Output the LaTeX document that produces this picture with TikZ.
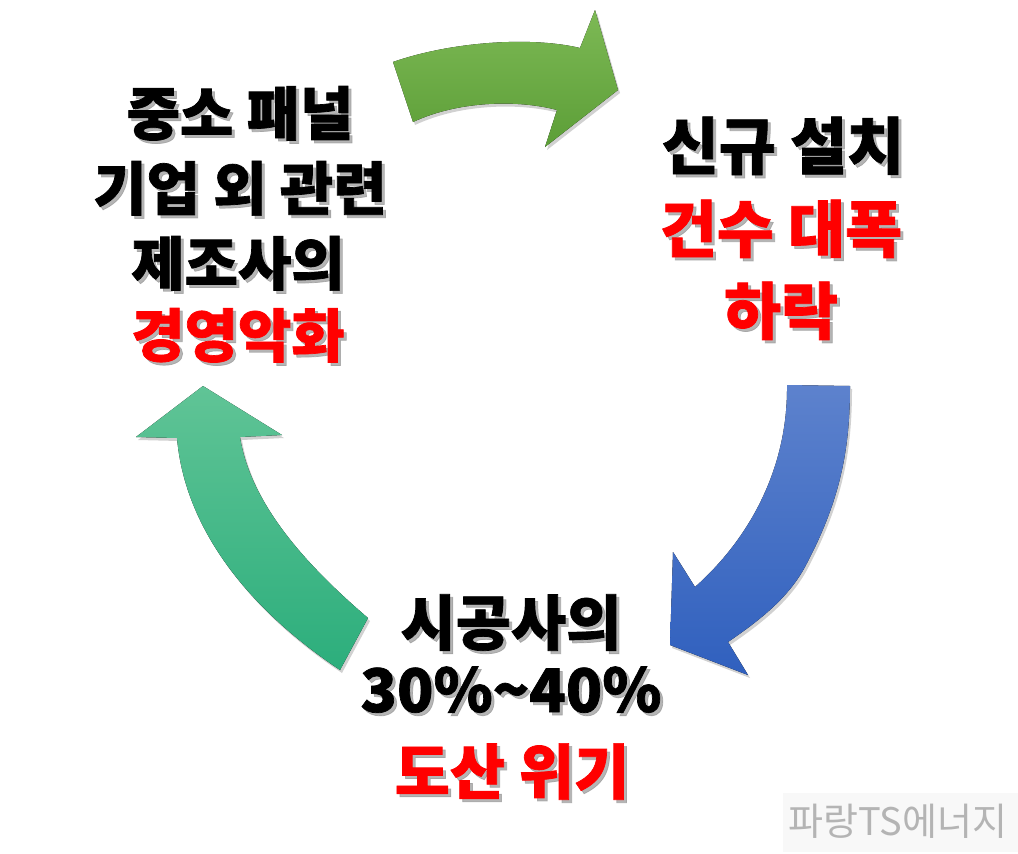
\documentclass[tikz,border=0pt]{standalone}
\usepackage{fontspec}
\newfontfamily\kr{Noto Sans CJK KR}[BoldFeatures={FakeBold=1.2}]
\definecolor{hlred}{RGB}{255,0,0}
\definecolor{shadowgray}{RGB}{150,150,150}
\definecolor{gtop}{RGB}{125,185,85}
\definecolor{gbot}{RGB}{92,158,55}
\definecolor{btop}{RGB}{93,130,205}
\definecolor{bbot}{RGB}{48,96,190}
\definecolor{ttop}{RGB}{96,196,150}
\definecolor{tbot}{RGB}{44,174,124}
\definecolor{wmgray}{RGB}{180,180,180}
\definecolor{wmbg}{RGB}{248,248,248}
\tikzset{
  txt/.style={anchor=base, inner sep=0pt},
  arrowshadow/.style={fill=black, opacity=0.18},
}
\newcommand{\txtline}[6]{%
  \node[txt, text=shadowgray, opacity=0.7, font=\kr\bfseries\fontsize{#4}{#4}\selectfont] (#1s) at (#2+3,#3+3) {#6};
  \node[txt, text=#5, font=\kr\bfseries\fontsize{#4}{#4}\selectfont] (#1) at (#2,#3) {#6};
}
\newcommand{\greenarrowpath}{(393,62) .. controls (450,42) and (530,36) .. (580,48) -- (595,10) -- (618,90) -- (545,147) -- (557,110) .. controls (520,100) and (460,100) .. (413,122) -- cycle}
\newcommand{\bluearrowpath}{(787,385) -- (850,386) .. controls (850,450) and (840,500) .. (807,563) .. controls (790,597) and (760,620) .. (728,642) -- (748,675) -- (670,645) -- (673,552) -- (695,587) .. controls (748,540) and (788,470) .. (787,385) -- cycle}
\newcommand{\tealarrowpath}{(340,670) -- (368,618) .. controls (300,560) and (250,500) .. (240,437) -- (282,435) -- (203,386) -- (136,437) -- (177,438) .. controls (185,530) and (250,610) .. (340,670) -- cycle}
\begin{document}
\begin{tikzpicture}[x=1pt,y=-1pt]
\useasboundingbox (0,0) rectangle (1018,854);
\fill[white] (0,0) rectangle (1018,854);
% arrows with soft shadows
\begin{scope}[shift={(2,3)}]
  \fill[arrowshadow] \greenarrowpath;
  \fill[arrowshadow] \bluearrowpath;
  \fill[arrowshadow] \tealarrowpath;
\end{scope}
\fill[top color=gtop, bottom color=gbot] \greenarrowpath;
\fill[top color=btop, bottom color=bbot] \bluearrowpath;
\fill[top color=ttop, bottom color=tbot] \tealarrowpath;
% left block
\txtline{l1}{240}{135}{58}{black}{중소 패널}
\txtline{l2}{240}{210}{58}{black}{기업 외 관련}
\txtline{l3}{238}{285}{58}{black}{제조사의}
\txtline{l4}{238}{357}{58}{hlred}{경영악화}
% right block
\txtline{r1}{783}{169}{62}{black}{신규 설치}
\txtline{r2}{781}{252}{62}{hlred}{건수 대폭}
\txtline{r3}{781}{334}{62}{hlred}{하락}
% bottom block
\txtline{b1}{511}{645}{60}{black}{시공사의}
\txtline{b2}{511}{712}{60}{black}{30\%\textasciitilde 40\%}
\txtline{b3}{512}{794}{60}{hlred}{도산 위기}
% watermark
\fill[wmbg] (783,793) rectangle (1018,852);
\node[txt, text=wmgray, font=\kr\fontsize{38}{38}\selectfont] (wm) at (898,835) {파랑TS에너지};
\end{tikzpicture}
\end{document}
